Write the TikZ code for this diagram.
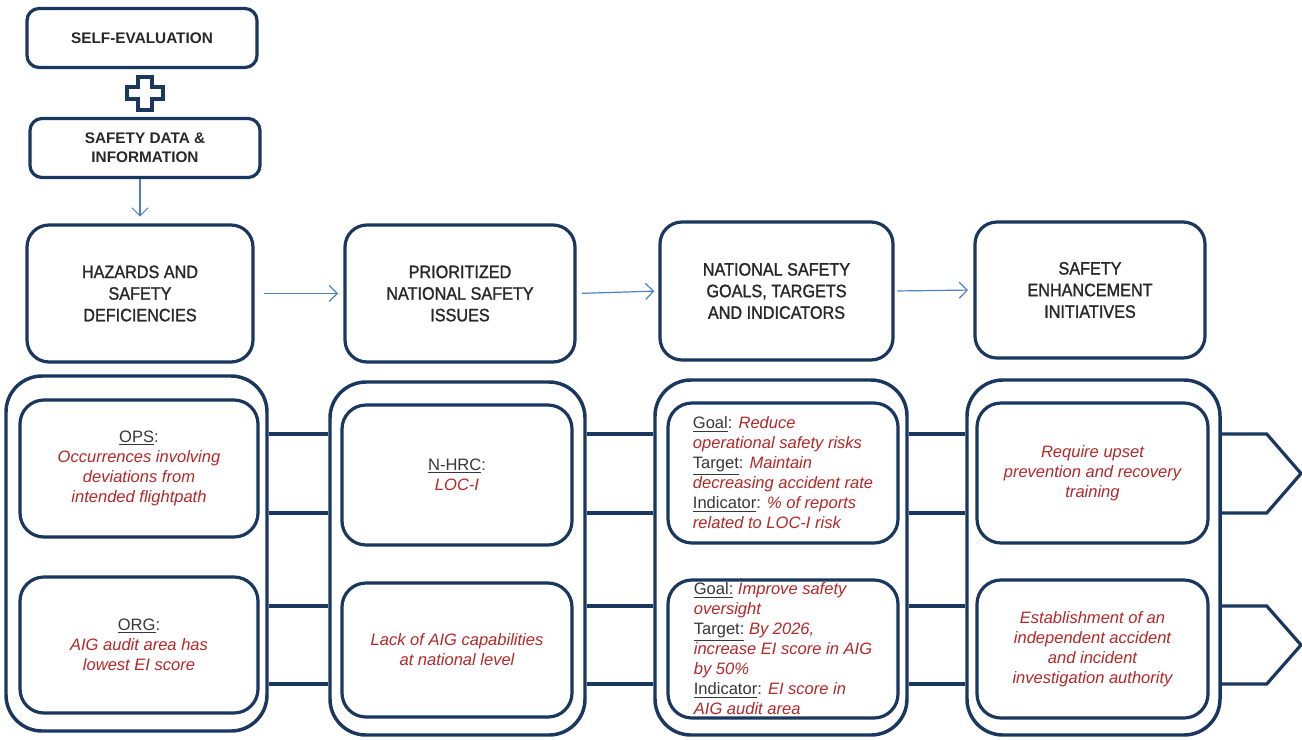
\documentclass[tikz,border=0pt]{standalone}
\usepackage{fontspec}
\setmainfont{Liberation Sans}
\newfontfamily\hdrfont[FakeStretch=0.9,FakeBold=1.3]{Liberation Sans}
\usetikzlibrary{arrows.meta,calc}
\definecolor{navy}{RGB}{25,55,95}
\definecolor{arrowblue}{RGB}{79,129,189}
\definecolor{redtxt}{RGB}{180,40,40}
\definecolor{hdrgray}{RGB}{40,40,40}
\definecolor{labgray}{RGB}{55,55,55}
\newcommand{\uu}{0.75pt}
\newcommand{\lab}[1]{{\upshape\color{labgray}\underline{#1}:}}
\newcommand{\labc}[1]{{\upshape\color{labgray}\underline{#1:}}}
\begin{document}
\begin{tikzpicture}[x=0.75pt,y=-0.75pt,
  topbox/.style={draw=navy,line width=2.4pt,fill=white,rounded corners=12*\uu,
    minimum width=230*\uu,minimum height=59*\uu,inner sep=0pt,align=center,
    text=hdrgray,font=\bfseries\fontsize{11.5}{14}\selectfont},
  hdrbox/.style={draw=navy,line width=2.4pt,fill=white,rounded corners=22*\uu,
    inner sep=0pt,align=center,text=hdrgray,font=\hdrfont\fontsize{13.5}{16.2}\selectfont},
  outerbox/.style={draw=navy,line width=2.6pt,fill=white,rounded corners=36*\uu,inner sep=0pt},
  innerbox/.style={draw=navy,line width=2.4pt,fill=white,rounded corners=24*\uu,
    inner sep=0pt,align=center,text=redtxt,font=\itshape\fontsize{12.4}{15}\selectfont},
  band/.style={draw=navy,line width=2.4pt},
  flowarrow/.style={draw=arrowblue,line width=0.9pt,-{Straight Barb[length=6pt,width=12pt]}}
]
\useasboundingbox (0,0) rectangle (1302,739);

% top stack
\node[topbox] (self) at (142,38) {SELF-EVALUATION};
\node[topbox] (data) at (145,148) {SAFETY DATA \&\\INFORMATION};
\draw[navy,line width=2.3pt,fill=white]
  (138,77) -- (152,77) -- (152,87) -- (163,87) -- (163,99) -- (152,99) -- (152,110)
  -- (138,110) -- (138,99) -- (127,99) -- (127,87) -- (138,87) -- cycle;

% header row
\node[hdrbox,minimum width=226*\uu,minimum height=137*\uu] (haz) at (140,293.5) {HAZARDS AND\\SAFETY\\DEFICIENCIES};
\node[hdrbox,minimum width=230*\uu,minimum height=137*\uu] (prio) at (460,293.5) {PRIORITIZED\\NATIONAL SAFETY\\ISSUES};
\node[hdrbox,minimum width=233*\uu,minimum height=138*\uu] (goals) at (776.5,291) {NATIONAL SAFETY\\GOALS, TARGETS\\AND INDICATORS};
\node[hdrbox,minimum width=230*\uu,minimum height=136*\uu] (sei) at (1090,290) {SAFETY\\ENHANCEMENT\\INITIATIVES};

\draw[flowarrow,shorten >=5pt] (haz.north |- data.south) -- (haz.north);
\draw[flowarrow,shorten <=7pt,shorten >=4pt] (haz.east) -- (prio.west);
\draw[flowarrow,shorten <=4pt,shorten >=3pt] (prio.east) -- (goals.west);
\draw[flowarrow,shorten <=2pt,shorten >=4pt] (goals.east) -- (sei.west);

% band levels
\coordinate (ya) at (0,434);
\coordinate (yb) at (0,513);
\coordinate (yc) at (0,606);
\coordinate (yd) at (0,684);

% bottom columns
\node[outerbox,minimum width=261*\uu,minimum height=355*\uu] (o1) at (136.5,553.5) {};
\node[outerbox,minimum width=255*\uu,minimum height=353*\uu] (o2) at (457.5,558.5) {};
\node[outerbox,minimum width=252*\uu,minimum height=355*\uu] (o3) at (781,557.5) {};
\node[outerbox,minimum width=253*\uu,minimum height=355*\uu] (o4) at (1093.5,557.5) {};

\node[innerbox,minimum width=238*\uu,minimum height=137*\uu] (i1a) at (139,468.5)
  {\lab{OPS}\\Occurrences involving\\deviations from\\intended flightpath};
\node[innerbox,minimum width=238*\uu,minimum height=136*\uu] (i1b) at (139,645)
  {\lab{ORG}\\AIG audit area has\\lowest EI score};
\node[innerbox,minimum width=230*\uu,minimum height=140*\uu] (i2a) at (457,475)
  {\lab{N-HRC}\\LOC-I};
\node[innerbox,minimum width=230*\uu,minimum height=134*\uu] (i2b) at (457,650)
  {Lack of AIG capabilities\\at national level};
\node[innerbox,align=left,minimum width=230*\uu,minimum height=140*\uu] (i3a) at (783,473)
  {\lab{Goal} Reduce\\operational safety risks\\\lab{Target} Maintain\\decreasing accident rate\\\lab{Indicator} \% of reports\\related to LOC-I risk};
\node[innerbox,align=left,minimum width=230*\uu,minimum height=138*\uu] (i3b) at (783,649)
  {\labc{Goal} Improve safety\\oversight\\\labc{Target} By 2026,\\increase EI score in AIG\\by 50\%\\\lab{Indicator} EI score in\\AIG audit area};
\node[innerbox,minimum width=231*\uu,minimum height=140*\uu] (i4a) at (1092.5,473)
  {Require upset\\prevention and recovery\\training};
\node[innerbox,minimum width=231*\uu,minimum height=138*\uu] (i4b) at (1092.5,649)
  {Establishment of an\\independent accident\\and incident\\investigation authority};

% connecting bands
\foreach \a/\b in {o1/o2,o2/o3,o3/o4}{
  \draw[band] (\a.east |- ya) -- (\b.west |- ya);
  \draw[band] (\a.east |- yb) -- (\b.west |- yb);
  \draw[band] (\a.east |- yc) -- (\b.west |- yc);
  \draw[band] (\a.east |- yd) -- (\b.west |- yd);
}
\coordinate (tipa) at (1301,473.5);
\coordinate (tipb) at (1301,645);
\draw[band,line join=miter] (o4.east |- ya) -- ++(45,0) -- (tipa) -- ($(o4.east |- yb)+(45,0)$) -- (o4.east |- yb);
\draw[band,line join=miter] (o4.east |- yc) -- ++(45,0) -- (tipb) -- ($(o4.east |- yd)+(45,0)$) -- (o4.east |- yd);
\end{tikzpicture}
\end{document}
